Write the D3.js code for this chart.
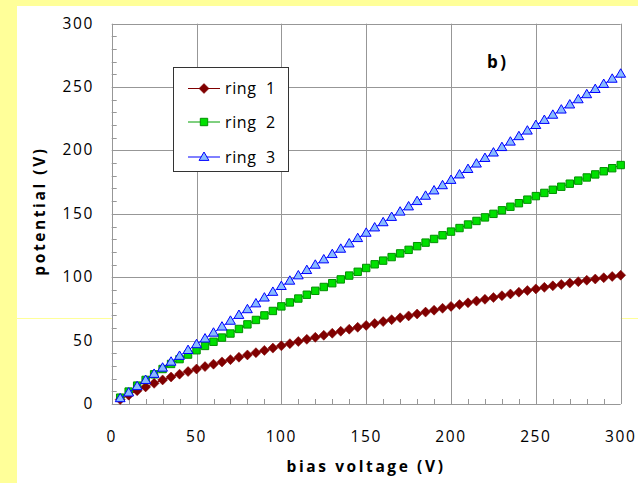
<!DOCTYPE html>
<html><head><meta charset="utf-8">
<script src="https://cdn.jsdelivr.net/npm/d3@7"></script>
<style>
html,body{margin:0;padding:0;background:#FFFF99;}
svg{display:block;}
text{font-family:"Open Sans",sans-serif;fill:#000;}
</style></head>
<body>
<svg id="chart" width="638" height="483"></svg>
<script>
const voltages = d3.range(5, 301, 5);
const ring1 = [3.5,7,10.5,13.5,16.3,19,21.3,23.5,25.6,27.6,29.5,31.4,33.2,35,36.9,38.7,40.5,42.3,44.1,45.9,
  47.6,49.3,51,52.6,54.2,55.8,57.4,59,60.5,62,63.5,65,66.5,68,69.5,71,72.5,74,75.5,77,
  78.4,79.8,81.2,82.6,84,85.4,86.8,88.2,89.5,90.8,92,93.2,94.3,95.4,96.5,97.6,98.6,99.6,100.6,101.6];
const ring2 = [5,9.8,14.5,19,23.4,27.6,31.6,35.4,39,42.4,45.8,49.1,52.4,55.6,59.2,62.8,66.3,69.9,73.4,77,
  80.1,83.2,86.2,89.3,92.3,95.3,98.3,101.3,104.3,107.3,110.2,113.1,115.9,118.8,121.6,124.5,127.3,130.2,133.1,136,
  138.8,141.6,144.4,147.2,150,152.8,155.6,158.4,161.2,164,166.5,169,171.4,173.8,176.2,178.7,181.1,183.6,186,188.5];
const ring3 = [4.5,9,14,18.9,23.7,28.6,33.3,37.9,42.5,47.1,51.6,56.2,61,65.6,70.2,74.7,79.3,83.9,88.4,93,
  97.2,101.4,105.6,109.8,114,118.2,122.4,126.6,130.8,135,139.2,143.3,147.5,151.7,155.8,160,164.2,168.4,172.5,176.7,
  181,185.3,189.6,194,198.3,202.6,206.9,211.2,215.6,220,224,228.1,232.2,236.2,240.3,244.3,248.4,252.4,256.5,260.5];
const seriesNames = ["ring  1","ring  2","ring  3"];
const xTicks = [0,50,100,150,200,250,300];
const yTicks = [0,50,100,150,200,250,300];

const svg = d3.select("#chart");
svg.append("rect").attr("x",17).attr("y",6).attr("width",638-17).attr("height",483-6).attr("fill","#fff");
svg.append("line").attr("x1",17).attr("x2",638).attr("y1",318.5).attr("y2",318.5)
  .attr("stroke","#FFFF99").attr("stroke-width",1);

const x = d3.scaleLinear().domain([0,300]).range([111.7,620.7]);
const y = d3.scaleLinear().domain([0,300]).range([404,23.7]);

const plot = svg.append("g");
plot.append("rect").attr("x",x(0)).attr("y",y(300)).attr("width",x(300)-x(0)).attr("height",y(0)-y(300)).attr("fill","#fff");

const gridColor = "#979797";
plot.selectAll(".gx").data(xTicks).enter().append("line")
  .attr("x1",d=>Math.round(x(d))+0.5).attr("x2",d=>Math.round(x(d))+0.5)
  .attr("y1",y(0)).attr("y2",y(300)).attr("stroke",gridColor).attr("stroke-width",1);
plot.selectAll(".gy").data(yTicks).enter().append("line")
  .attr("y1",d=>Math.round(y(d))+0.5).attr("y2",d=>Math.round(y(d))+0.5)
  .attr("x1",x(0)).attr("x2",x(300)).attr("stroke",gridColor).attr("stroke-width",1);
const minor = d3.range(10,300,10).filter(v=>v%50!==0);
plot.selectAll(".mx").data(minor).enter().append("line")
  .attr("x1",d=>Math.round(x(d))+0.5).attr("x2",d=>Math.round(x(d))+0.5)
  .attr("y1",y(0)).attr("y2",y(0)-5).attr("stroke",gridColor);
plot.selectAll(".my").data(minor).enter().append("line")
  .attr("y1",d=>Math.round(y(d))+0.5).attr("y2",d=>Math.round(y(d))+0.5)
  .attr("x1",x(0)).attr("x2",x(0)+5).attr("stroke",gridColor);

svg.selectAll(".tx").data(xTicks).enter().append("text")
  .attr("x",d=>x(d)).attr("y",442).attr("text-anchor","middle")
  .attr("font-size",15.5).attr("letter-spacing","1.6px").text(d=>d);
svg.selectAll(".ty").data(yTicks).enter().append("text")
  .attr("x",94).attr("y",d=>y(d)+5).attr("text-anchor","end")
  .attr("font-size",15.5).attr("letter-spacing","1.6px").text(d=>d);

svg.append("text").attr("x",366).attr("y",472).attr("text-anchor","middle")
  .attr("font-size",15.5).attr("font-weight","bold").attr("letter-spacing","2.6px").text("bias voltage (V)");
svg.append("text").attr("transform","translate(45,211) rotate(-90)").attr("text-anchor","middle")
  .attr("font-size",15.5).attr("font-weight","bold").attr("letter-spacing","2.6px").text("potential (V)");
svg.append("text").attr("x",487).attr("y",68).attr("font-size",17).attr("font-weight","bold")
  .attr("letter-spacing","2.5px").text("b)");

const styles = [
  {line:"#800000", fill:"#800000", stroke:"#800000", shape:"diamond"},
  {line:"#00A000", fill:"#00E000", stroke:"#009000", shape:"square"},
  {line:"#0000FF", fill:"#88BBFF", stroke:"#0000FF", shape:"triangle"}
];
const data = [ring1, ring2, ring3];
function markerPath(shape){
  if(shape==="diamond") return "M0,-5L5,0L0,5L-5,0Z";
  if(shape==="square") return "M-3.7,-3.7H3.7V3.7H-3.7Z";
  return "M0,-5L4.9,3.4H-4.9Z";
}
const line = d3.line().x(d=>x(d[0])).y(d=>y(d[1]));
data.forEach((vals,i)=>{
  const pts = voltages.map((v,j)=>[v,vals[j]]);
  const st = styles[i];
  const g = plot.append("g");
  g.append("path").datum(pts).attr("d",line).attr("fill","none").attr("stroke",st.line).attr("stroke-width",1);
  g.selectAll("path.m").data(pts).enter().append("path").attr("class","m")
    .attr("d",markerPath(st.shape))
    .attr("transform",d=>`translate(${x(d[0])},${y(d[1])})`)
    .attr("fill",st.fill).attr("stroke",st.stroke).attr("stroke-width",st.shape==="diamond"?0.5:1);
});

const lg = svg.append("g");
lg.append("rect").attr("x",173.5).attr("y",67.5).attr("width",115).attr("height",104)
  .attr("fill","#fff").attr("stroke","#333").attr("stroke-width",1);
const rowY = [88.5,122,157];
seriesNames.forEach((n,i)=>{
  const st = styles[i];
  lg.append("line").attr("x1",188).attr("x2",220).attr("y1",rowY[i]).attr("y2",rowY[i]).attr("stroke",st.line);
  lg.append("path").attr("d",markerPath(st.shape)).attr("transform",`translate(204,${rowY[i]})`)
    .attr("fill",st.fill).attr("stroke",st.stroke).attr("stroke-width",st.shape==="diamond"?0.5:1);
  lg.append("text").attr("x",225).attr("y",rowY[i]+5.5).attr("font-size",16).style("white-space","pre")
    .attr("letter-spacing","0.6px").text(n);
});
</script>
</body></html>
